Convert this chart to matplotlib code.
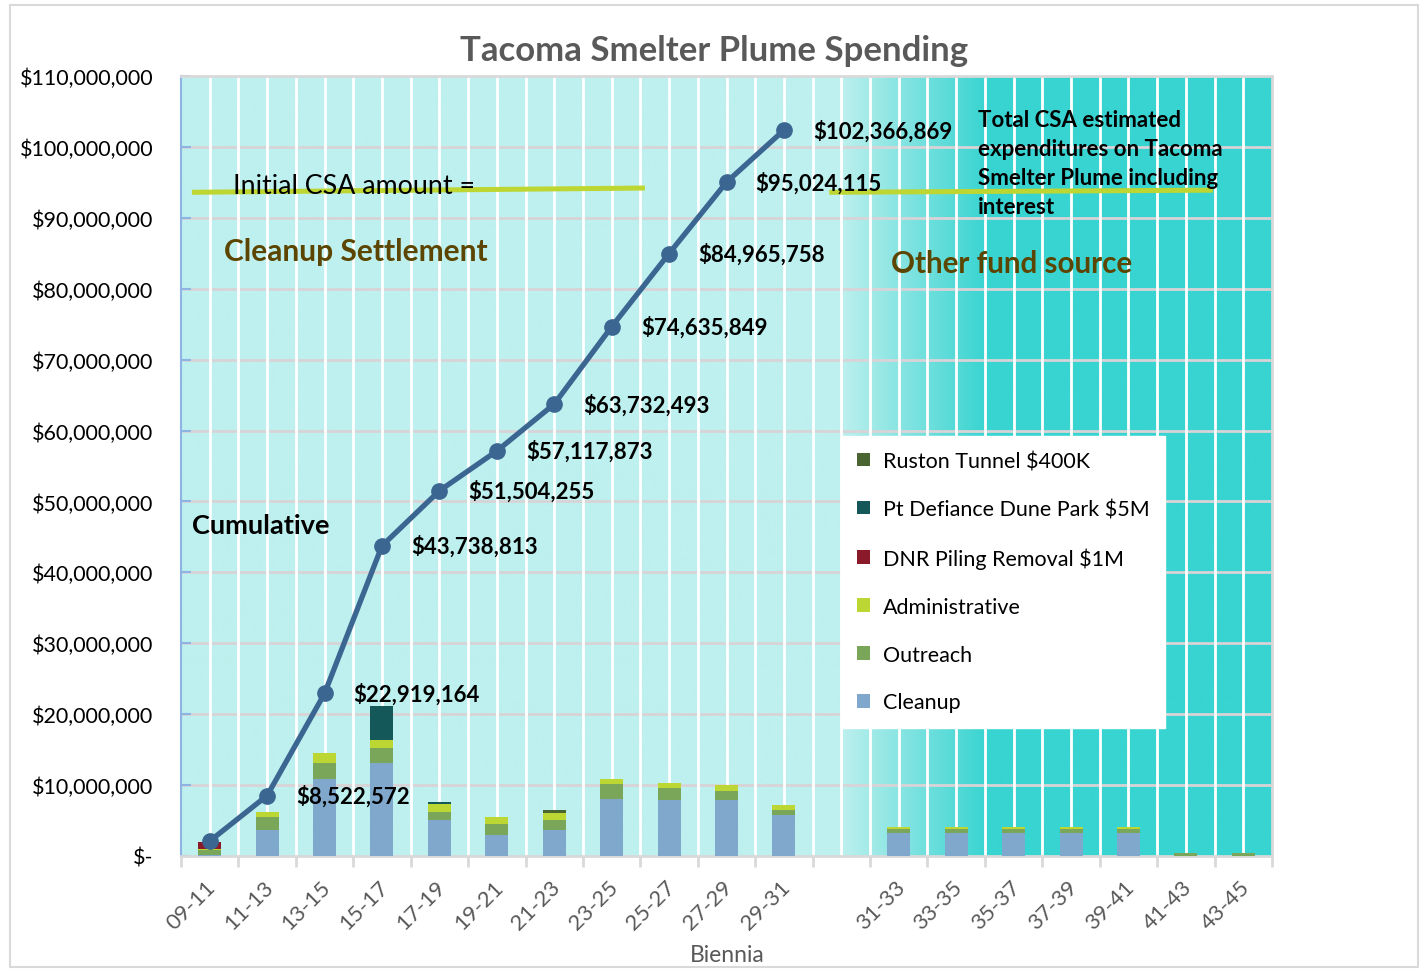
import numpy as np
import matplotlib
matplotlib.use("Agg")
import matplotlib.pyplot as plt
import matplotlib.transforms as mtransforms
from matplotlib.patches import Patch, Rectangle
from matplotlib.ticker import FuncFormatter, MultipleLocator

plt.rcParams['font.family'] = ['Lato', 'DejaVu Sans']

# ---------------- data ----------------
categories = ["09-11", "11-13", "13-15", "15-17", "17-19", "19-21", "21-23", "23-25",
              "25-27", "27-29", "29-31", "", "31-33", "33-35", "35-37", "37-39",
              "39-41", "41-43", "43-45"]
# values in $ millions
cleanup = [0.2, 3.6, 10.8, 13.1, 5.05, 2.9, 3.6, 8.1, 7.85, 7.9, 5.8, 0,
           3.2, 3.2, 3.2, 3.2, 3.2, 0, 0]
outreach = [0.6, 1.9, 2.3, 2.2, 1.2, 1.6, 1.45, 2.0, 1.75, 1.25, 0.75, 0,
            0.65, 0.65, 0.65, 0.65, 0.65, 0.45, 0.45]
administrative = [0.2, 0.7, 1.4, 1.0, 1.05, 1.0, 1.05, 0.8, 0.75, 0.8, 0.7, 0,
                  0.2, 0.2, 0.2, 0.2, 0.2, 0, 0]
dnr_piling = [1.0, 0, 0, 0, 0, 0, 0, 0, 0, 0, 0, 0, 0, 0, 0, 0, 0, 0, 0]
pt_defiance = [0, 0, 0, 4.8, 0.3, 0, 0, 0, 0, 0, 0, 0, 0, 0, 0, 0, 0, 0, 0]
ruston_tunnel = [0, 0, 0, 0, 0, 0, 0.4, 0, 0, 0, 0, 0, 0, 0, 0, 0, 0, 0, 0]

cumulative = [2100000, 8522572, 22919164, 43738813, 51504255, 57117873,
              63732493, 74635849, 84965758, 95024115, 102366869]
cumulative_labeled = [False] + [True] * 10

initial_csa = 93.8e6

series = [
    ("Cleanup", cleanup, "#80a8cc"),
    ("Outreach", outreach, "#7aa65a"),
    ("Administrative", administrative, "#bcd634"),
    ("DNR Piling Removal $1M", dnr_piling, "#8a1a2a"),
    ("Pt Defiance Dune Park $5M", pt_defiance, "#15585a"),
    ("Ruston Tunnel $400K", ruston_tunnel, "#4b6532"),
]

# ---------------- figure ----------------
W, H = 1424, 970
fig = plt.figure(figsize=(W / 100, H / 100), dpi=100)
fig.patch.set_facecolor("white")


def fx(px):
    return px / W


def fy(py):
    return 1 - py / H


# outer chart border
fig.add_artist(Rectangle((fx(10), fy(968)), fx(1418) - fx(10), fy(6) - fy(968),
                         transform=fig.transFigure, fill=False,
                         edgecolor="#d9d9d9", lw=1.5))

ax = fig.add_axes([fx(181), fy(857), fx(1272) - fx(181), fy(77) - fy(857)])

n = len(categories)
x = np.arange(n)
ax.set_xlim(-0.5, n - 0.5)
ax.set_ylim(0, 110e6)

# background gradient (light cyan -> teal)
light = np.array([0xbd, 0xf0, 0xee]) / 255
teal = np.array([0x38, 0xd4, 0xd1]) / 255
xs = np.linspace(-0.5, n - 0.5, 800)
t = np.clip((xs - 11.0) / (13.55 - 11.0), 0, 1)
grad = light[None, :] * (1 - t[:, None]) + teal[None, :] * t[:, None]
ax.imshow(grad[None, :, :], extent=(-0.5, n - 0.5, 0, 110e6), aspect="auto",
          zorder=0, interpolation="bilinear")

# grid lines
for yv in np.arange(10e6, 110e6, 10e6):
    ax.axhline(yv, color="#d8d3d6", lw=2, zorder=1)
for xv in np.arange(0, n - 0.5, 0.5):
    ax.axvline(xv, color="white", lw=2, zorder=1)

# stacked bars
bottom = np.zeros(n)
for name, vals, col in series:
    v = np.array(vals) * 1e6
    ax.bar(x, v, width=0.4, bottom=bottom, color=col, zorder=3, label=name)
    bottom += v

# cumulative line
cx = x[:len(cumulative)]
ax.plot(cx, cumulative, color="#3b6692", lw=3.8, marker="o", ms=11, zorder=5)
for xi, yi, lab in zip(cx, cumulative, cumulative_labeled):
    if lab:
        ax.annotate(f"${yi:,.0f}", (xi, yi), xytext=(21, 0), textcoords="offset points",
                    ha="left", va="center", fontsize=16, fontweight="bold",
                    color="black", zorder=6)

# initial CSA amount lines (hand-drawn style)
ax.plot([-0.31, 7.58], [initial_csa - 0.2e6, initial_csa + 0.4e6],
        color="#bdd631", lw=3.6, zorder=4, solid_capstyle="butt")
ax.plot([10.79, 17.47], [initial_csa - 0.2e6, initial_csa + 0.1e6],
        color="#bdd631", lw=3.6, zorder=4, solid_capstyle="butt")

# axes styling
ax.yaxis.set_major_locator(MultipleLocator(10e6))
ax.yaxis.set_major_formatter(FuncFormatter(lambda v, p: "$-" if v == 0 else f"${v:,.0f}"))
ax.tick_params(axis="y", direction="in", length=7, width=1.5, color="#8eb4e3",
               labelsize=15.5, pad=20, labelcolor="black")
ax.set_xticks(x)
ax.set_xticklabels(categories, rotation=45, ha="right", rotation_mode="anchor",
                   fontsize=16, color="#595959")
ax.tick_params(axis="x", which="major", length=0, pad=15)
shift = mtransforms.ScaledTranslation(-4 / 100, 0, fig.dpi_scale_trans)
for lbl in ax.get_xticklabels():
    lbl.set_transform(lbl.get_transform() + shift)
ax.set_xticks(np.arange(-0.5, n, 1.0), minor=True)
ax.tick_params(axis="x", which="minor", length=8, width=2, color="#d9d9d9")
ax.spines["left"].set_color("#8eb4e3")
ax.spines["left"].set_linewidth(1.5)
for s in ("top", "right", "bottom"):
    ax.spines[s].set_color("#d9d9d9")
    ax.spines[s].set_linewidth(2)
ax.set_xlabel("Biennia", fontsize=16.5, color="#595959")
ax.xaxis.label.set_va("center")
ax.xaxis.set_label_coords((727 - 181) / (1272 - 181), -(956 - 857) / (857 - 77))

# title
fig.text(fx(714), fy(51), "Tacoma Smelter Plume Spending", ha="center", va="center",
         fontsize=25, fontweight="bold", color="#595959")

# annotations
fig.text(fx(233), fy(187), "Initial CSA amount =", ha="left", va="center",
         fontsize=19.3, color="black")
fig.text(fx(224), fy(252), "Cleanup Settlement", ha="left", va="center",
         fontsize=21.5, fontweight="bold", color="#5c4500")
fig.text(fx(891), fy(264), "Other fund source", ha="left", va="center",
         fontsize=21.3, fontweight="bold", color="#5c4500")
fig.text(fx(192), fy(526), "Cumulative", ha="left", va="center",
         fontsize=19.5, fontweight="bold", color="black")
fig.text(fx(978), fy(110),
         "Total CSA estimated\nexpenditures on Tacoma\nSmelter Plume including\ninterest",
         ha="left", va="top", fontsize=16, fontweight="bold", color="black",
         linespacing=1.47)

# legend (reverse order)
handles = [Patch(facecolor=col, edgecolor="none") for _, _, col in series][::-1]
labels = [name for name, _, _ in series][::-1]
leg = fig.legend(handles, labels, loc="upper left",
                 bbox_to_anchor=(fx(842), fy(437)), bbox_transform=fig.transFigure,
                 fontsize=15.5, frameon=True, fancybox=False, framealpha=1,
                 edgecolor="white", facecolor="white", handlelength=0.6,
                 handleheight=0.6, handletextpad=0.6, labelspacing=1.3,
                 borderpad=0.7, borderaxespad=0)
leg.set_zorder(10)

fig.savefig("out.png", dpi=100)
